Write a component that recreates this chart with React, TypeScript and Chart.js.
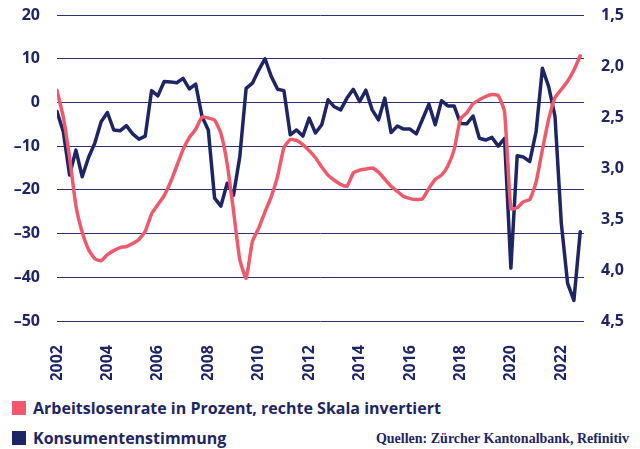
import React, { useEffect, useRef } from 'react';
import { Chart, registerables } from 'chart.js';

Chart.register(...registerables);

// ---- data (quarterly, starting 2002 Q1) ----
const startYear = 2002;
const tickYears = [2002, 2004, 2006, 2008, 2010, 2012, 2014, 2016, 2018, 2020, 2022];
const leftTicks = [20, 10, 0, -10, -20, -30, -40, -50];
const rightTicks = [1.5, 2.0, 2.5, 3.0, 3.5, 4.0, 4.5];

const consumerSentiment = [
  -2.1, -6.7, -16.6, -10.9, -17.0, -12.6, -9.3, -4.4,
  -2.3, -6.3, -6.5, -5.3, -7.2, -8.4, -7.7, 2.7,
  1.5, 4.8, 4.7, 4.5, 5.5, 3.1, 4.2, -3.2,
  -6.3, -21.9, -23.7, -18.5, -21.2, -12.4, 3.2, 4.4,
  7.4, 10.0, 5.9, 3.0, 2.7, -7.4, -6.3, -7.7,
  -3.6, -7.0, -5.1, 0.6, -1.0, -1.7, 1.0, 3.0,
  0.2, 2.8, -1.7, -4.0, 1.0, -6.9, -5.4, -6.1,
  -6.1, -7.2, -3.8, -0.4, -5.1, 0.4, -0.8, -0.8,
  -4.8, -4.9, -3.1, -8.2, -8.6, -8.0, -10.0, -8.2,
  -37.9, -12.2, -12.5, -13.5, -6.7, 7.8, 3.6, -3.2,
  -27.6, -41.4, -45.3, -29.6,
];

const unemploymentRate = [
  2.24, 2.50, 2.90, 3.37, 3.63, 3.80, 3.89, 3.91,
  3.85, 3.81, 3.78, 3.77, 3.74, 3.70, 3.62, 3.45,
  3.36, 3.27, 3.14, 2.98, 2.82, 2.70, 2.62, 2.50,
  2.51, 2.53, 2.66, 2.96, 3.42, 3.90, 4.08, 3.72,
  3.59, 3.43, 3.28, 3.08, 2.80, 2.72, 2.73, 2.77,
  2.83, 2.90, 2.99, 3.07, 3.12, 3.16, 3.18, 3.05,
  3.02, 3.01, 3.00, 3.04, 3.11, 3.18, 3.23, 3.28,
  3.30, 3.31, 3.30, 3.20, 3.11, 3.07, 2.98, 2.82,
  2.52, 2.46, 2.37, 2.33, 2.30, 2.28, 2.29, 2.45,
  3.40, 3.39, 3.33, 3.31, 3.14, 2.82, 2.52, 2.31,
  2.23, 2.15, 2.04, 1.90,
];

const NAVY = '#1e2563';
const RED = '#ee5a6b';
const GRID = '#2b3270';
const FONT = '"Open Sans", sans-serif';

export default function App() {
  const canvasRef = useRef<HTMLCanvasElement | null>(null);

  useEffect(() => {
    const canvas = canvasRef.current;
    if (!canvas) return;
    const toPoints = (arr: number[]) => arr.map((v, i) => ({ x: startYear + i / 4, y: v }));

    const chart = new Chart(canvas, {
      type: 'line',
      data: {
        datasets: [
          {
            label: 'Arbeitslosenrate in Prozent, rechte Skala invertiert',
            data: toPoints(unemploymentRate),
            yAxisID: 'y1',
            borderColor: RED,
            backgroundColor: RED,
            borderWidth: 3.5,
            pointRadius: 0,
            borderJoinStyle: 'round',
            borderCapStyle: 'round',
            tension: 0.15,
          },
          {
            label: 'Konsumentenstimmung',
            data: toPoints(consumerSentiment),
            yAxisID: 'y',
            borderColor: NAVY,
            backgroundColor: NAVY,
            borderWidth: 3.5,
            pointRadius: 0,
            borderJoinStyle: 'round',
            borderCapStyle: 'round',
            tension: 0,
          },
        ],
      },
      options: {
        responsive: false,
        animation: false,
        devicePixelRatio: 1,
        layout: { padding: { top: 15, left: 0, right: 0, bottom: 0 } },
        plugins: {
          legend: { display: false },
          tooltip: { enabled: false },
        },
        scales: {
          x: {
            type: 'linear',
            min: startYear,
            max: 2022.9,
            grid: { display: false },
            border: { display: false },
            afterBuildTicks: (s: any) => {
              s.ticks = tickYears.map((v) => ({ value: v }));
            },
            afterFit: (s: any) => {
              s.height = 59;
              s.paddingLeft = 0;
              s.paddingRight = 0;
            },
            ticks: {
              autoSkip: false,
              minRotation: 90,
              maxRotation: 90,
              padding: 16,
              color: NAVY,
              font: { family: FONT, size: 16, weight: 'bold' },
              callback: (v: any) => String(v),
            },
          },
          y: {
            position: 'left',
            min: -50,
            max: 20,
            afterBuildTicks: (s: any) => {
              s.ticks = leftTicks.map((v) => ({ value: v }));
            },
            afterFit: (s: any) => {
              s.width = 57;
              s.paddingTop = 0;
              s.paddingBottom = 0;
            },
            grid: { color: GRID, lineWidth: 1, drawTicks: false },
            border: { display: false },
            ticks: {
              padding: 17,
              color: NAVY,
              font: { family: FONT, size: 16, weight: 'bold' },
              callback: (v: any) => (v < 0 ? '\u2013' + Math.abs(v) : String(v)),
            },
          },
          y1: {
            position: 'right',
            reverse: true,
            min: 1.5,
            max: 4.5,
            afterBuildTicks: (s: any) => {
              s.ticks = rightTicks.map((v) => ({ value: v }));
            },
            afterFit: (s: any) => {
              s.width = 56;
              s.paddingTop = 0;
              s.paddingBottom = 0;
            },
            grid: { display: false, drawTicks: false },
            border: { display: false },
            ticks: {
              padding: 17,
              color: NAVY,
              font: { family: FONT, size: 16, weight: 'bold' },
              callback: (v: any) => Number(v).toFixed(1).replace('.', ','),
            },
          },
        },
      },
    } as any);

    return () => chart.destroy();
  }, []);

  const legendText: React.CSSProperties = {
    position: 'absolute',
    left: 33,
    fontFamily: FONT,
    fontWeight: 700,
    fontSize: 16,
    lineHeight: '20px',
    color: NAVY,
    whiteSpace: 'nowrap',
  };

  return (
    <div
      style={{
        position: 'fixed',
        left: 0,
        top: 0,
        width: 640,
        height: 449,
        background: '#ffffff',
        overflow: 'hidden',
      }}
    >
      <canvas ref={canvasRef} width={640} height={380} style={{ display: 'block', width: 640, height: 380 }} />
      <div style={{ position: 'absolute', left: 12, top: 401, width: 14, height: 14, background: RED }} />
      <div style={{ ...legendText, top: 398 }}>Arbeitslosenrate in Prozent, rechte Skala invertiert</div>
      <div style={{ position: 'absolute', left: 12, top: 431, width: 14, height: 14, background: NAVY }} />
      <div style={{ ...legendText, top: 428 }}>Konsumentenstimmung</div>
      <div
        style={{
          position: 'absolute',
          right: 11,
          top: 430,
          fontFamily: '"Liberation Serif", serif',
          fontWeight: 700,
          fontSize: 14,
          lineHeight: '18px',
          color: NAVY,
          whiteSpace: 'nowrap',
        }}
      >
        Quellen: Zürcher Kantonalbank, Refinitiv
      </div>
    </div>
  );
}
